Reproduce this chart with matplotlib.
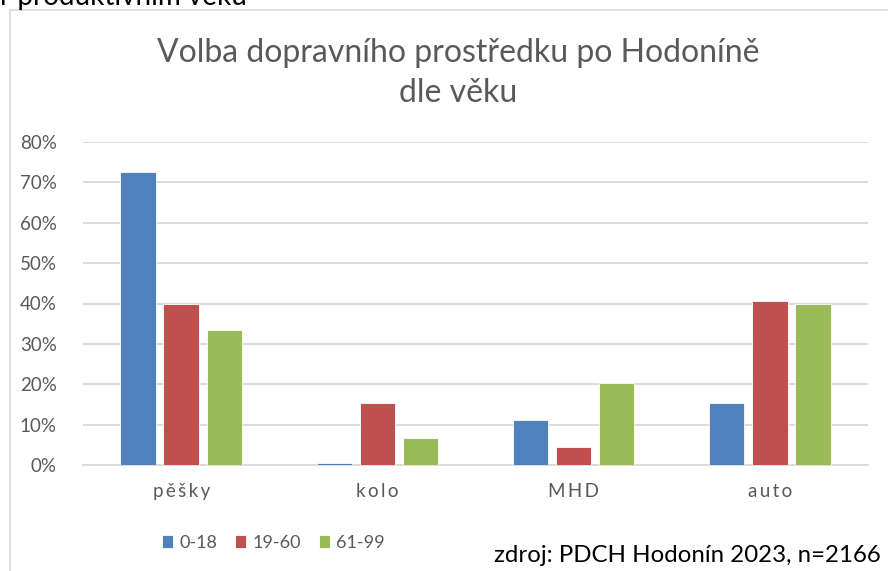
import numpy as np
import matplotlib
matplotlib.use('Agg')
import matplotlib.pyplot as plt
from matplotlib.patches import Rectangle

plt.rcParams['font.family'] = ['Lato', 'DejaVu Sans']

categories = ['pěšky', 'kolo', 'MHD', 'auto']
groups = ['0-18', '19-60', '61-99']
v_0_18 = [72.5, 0.5, 11.1, 15.3]
v_19_60 = [40.0, 15.3, 4.4, 40.6]
v_61_99 = [33.4, 6.7, 20.3, 40.0]
colors = ['#4f81bd', '#c0504d', '#9bbb59']

fig = plt.figure(figsize=(8.88, 5.71), dpi=100)

# ramecek grafu
fig.patches.append(Rectangle((10 / 888, -0.1), 1.2, 1 - 10 / 571 + 0.1,
                             transform=fig.transFigure, fill=False,
                             edgecolor='#d9d9d9', linewidth=1.2))
# useknuty text nad grafem (v originale je take oriznuty)
fig.text(0.0, 1 - 5 / 571, 'r produktivním věku', fontsize=20, color='black',
         ha='left', va='baseline')

ax = fig.add_axes([83 / 888, 1 - 465 / 571, (868 - 83) / 888, (465 - 142) / 571])
x = np.arange(len(categories))
w = 0.18
d = 0.22
for i, (vals, lab) in enumerate(zip([v_0_18, v_19_60, v_61_99], groups)):
    ax.bar(x + (i - 1) * d, np.array(vals) / 100, w, color=colors[i], label=lab,
           edgecolor='white', linewidth=0.6, zorder=3)

ax.set_xlim(-0.5, 3.5)
ax.set_ylim(0, 0.8)
ticks = np.arange(0, 0.81, 0.1)
ax.set_yticks(ticks)
ax.set_yticklabels([f'{int(round(t * 100))}%' for t in ticks])
ax.set_xticks(x)
ax.set_xticklabels(['\u2009'.join(c) for c in categories])
ax.yaxis.grid(True, color='#d9d9d9', linewidth=1.3, zorder=0)
for s in ['top', 'right', 'left']:
    ax.spines[s].set_visible(False)
ax.spines['bottom'].set_color('#d9d9d9')
ax.spines['bottom'].set_linewidth(1.3)
ax.tick_params(axis='both', length=0, colors='#595959', labelsize=13.5)
ax.tick_params(axis='x', pad=13)
ax.tick_params(axis='y', pad=19)

fig.text(458 / 888, 1 - 73 / 571, 'Volba dopravního prostředku po Hodoníně\ndle věku',
         ha='center', va='center', fontsize=23, color='#595959', linespacing=1.45)

ax.legend(loc='center left', bbox_to_anchor=(146 / 888, 1 - 543 / 571),
          bbox_transform=fig.transFigure, ncol=3, frameon=False, fontsize=13,
          labelcolor='#595959', handlelength=0.6, handleheight=0.7,
          handletextpad=0.35, columnspacing=1.0)

fig.text(881 / 888, 1 - 556 / 571, 'zdroj: PDCH Hodonín 2023, n=2166',
         ha='right', va='center', fontsize=17.3, color='black')

fig.savefig('out.png', dpi=100)
